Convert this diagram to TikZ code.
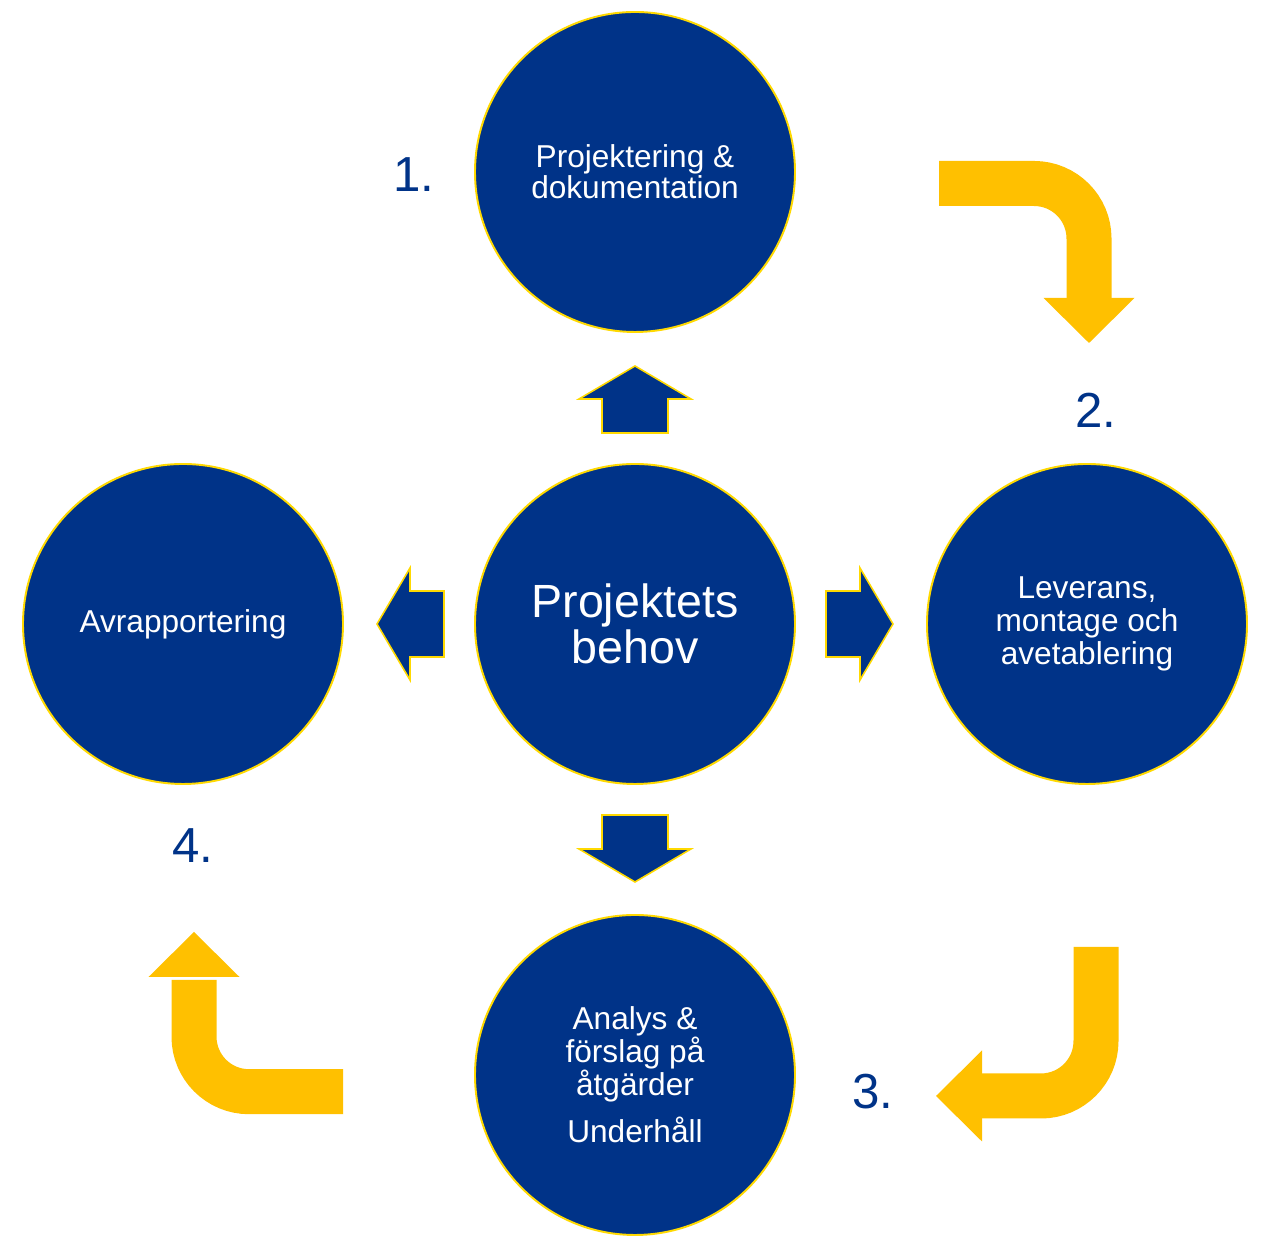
\documentclass[tikz,border=0pt]{standalone}
\usepackage{fontspec}
\setmainfont{Liberation Sans}
\definecolor{navy}{RGB}{0,51,136}
\definecolor{rim}{RGB}{255,217,0}
\definecolor{gold}{RGB}{255,192,0}
\begin{document}
\begin{tikzpicture}[x=0.2cm, y=0.2cm, line join=miter,
	phase/.style={circle, draw=rim, line width=1.1pt, fill=navy, text=white, minimum size=6.4cm, inner sep=0pt, align=center, font=\fontsize{18}{18.8}\selectfont},
	blockarrow/.style={draw=rim, line width=0.9pt, fill=navy},
	bendarrow/.style={draw=gold, line width=0.9cm, rounded corners=1.1cm},
	num/.style={text=navy, anchor=base, font=\fontsize{28}{30}\selectfont}]
			\useasboundingbox (0,0) rectangle (126.1,123.6);
			\node[phase, font=\fontsize{26.5}{26.5}\selectfont] (mid) at (63.5,61.2) {Projektets\\behov};
			\node[phase, font=\fontsize{18}{17.6}\selectfont] (plan) at (63.5,106.4) {Projektering \&\\dokumentation};
			\node[phase] (lev) at (108.7,61.2) {Leverans,\\montage och\\avetablering};
			\node[phase] (ana) at (63.5,16.1) {Analys \&\\förslag på\\åtgärder\\[8pt]Underhåll};
			\node[phase] (rap) at (18.3,61.2) {Avrapportering};
			\foreach \a in {0,90,180,270}
				\draw[blockarrow, shift={(mid)}, rotate=\a] (19.1,-3.3)--(22.5,-3.3)--(22.5,-5.6)--(25.8,0)--(22.5,5.6)--(22.5,3.3)--(19.1,3.3)--cycle;
			\coordinate (a1) at (93.9,105.25);
			\coordinate (a2) at (108.9,93.5);
			\draw[bendarrow] (a1) -| (a2);
			\fill[gold] (a2) ++(-4.55,0.3) -- ++(9.1,0) -- ++(-4.55,-4.5) -- cycle;
			\coordinate (b1) at (109.6,28.9);
			\coordinate (b2) at (97.9,14);
			\draw[bendarrow] (b1) |- (b2);
			\fill[gold] (b2) ++(0.3,4.55) -- ++(0,-9.1) -- ++(-4.6,4.55) -- cycle;
			\coordinate (c1) at (34.3,14.43);
			\coordinate (c2) at (19.4,25.6);
			\draw[bendarrow] (c1) -| (c2);
			\fill[gold] (c2) ++(-4.55,0.3) -- ++(9.1,0) -- ++(-4.55,4.5) -- cycle;
			\node[num] (n1) at (41.4,104.4) {1.};
			\node[num] (n2) at (109.6,80.8) {2.};
			\node[num] (n3) at (87.3,12.75) {3.};
			\node[num] (n4) at (19.3,37.3) {4.};
\end{tikzpicture}
\end{document}
